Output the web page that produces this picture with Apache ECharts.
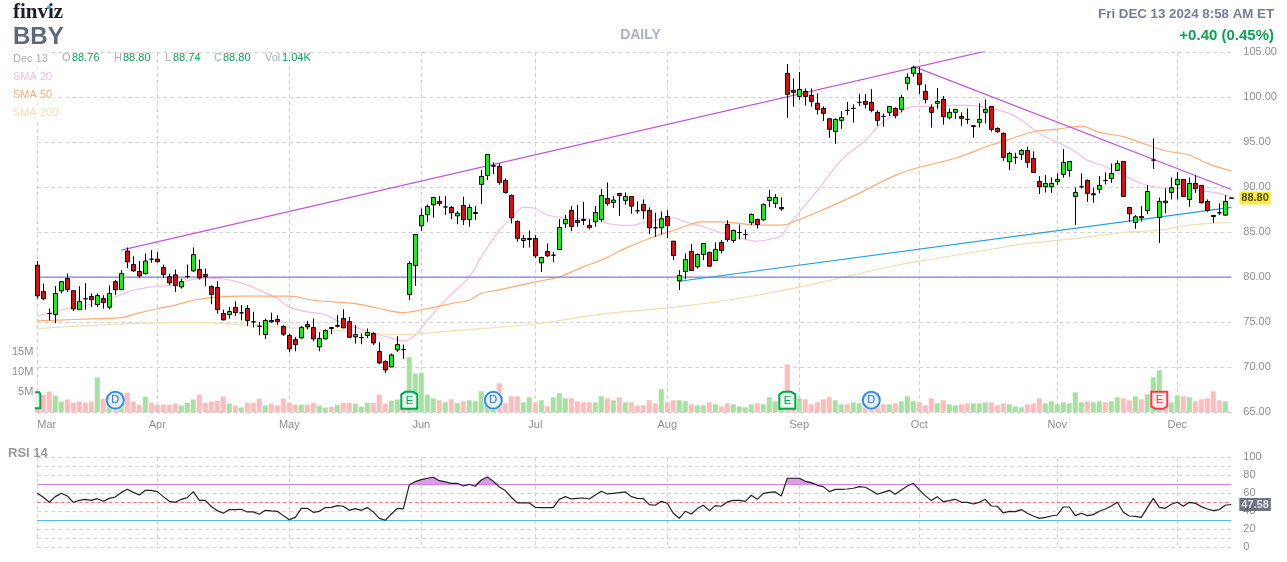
<!DOCTYPE html>
<html><head><meta charset="utf-8">
<style>html,body{margin:0;padding:0;background:#fff}#c{width:1287px;height:562px}</style>
<script src="https://cdn.jsdelivr.net/npm/echarts@6/dist/echarts.min.js"></script>
</head><body><div id="c"></div>
<script>
// month starts and labels
const monthStarts=[0,20,42,64,83,105,127,147,170,190];
const monthLabels=['Mar','Apr','May','Jun','Jul','Aug','Sep','Oct','Nov','Dec'];
const priceTicks={min:65,max:105,interval:5};
// [open, close, low, high]
const candles=[
[81.33,77.93,77.63,81.78],[78.4,77.6,77.45,79.3],[75.96,75.96,75.2,76.52],[75.85,78.2,74.9,79.0],[78.48,79.5,78.2,79.55],
[79.85,78.63,78.37,80.4],[78.5,76.48,76.26,78.5],[76.4,77.3,76.4,79.0],[77.6,77.6,76.4,79.37],[77.85,77.5,76.7,78.2],
[76.96,77.96,76.7,78.2],[77.63,77.2,76.5,78.0],[76.67,78.2,76.44,79.07],[79.5,78.6,78.04,79.67],[78.63,80.4,78.55,80.78],
[82.9,81.7,81.0,83.3],[81.4,80.7,80.6,82.33],[80.63,80.15,79.9,81.78],[80.4,81.8,80.3,82.63],[82,82,81.6,83],
[82.0,81.74,81.6,82.8],[81.07,80.3,79.93,81.4],[80.04,79.37,79.1,80.4],[80.26,79.07,78.37,80.85],[78.93,79.5,78.74,79.85],
[80.07,80.07,79.85,81.4],[80.7,82.5,80.6,83.3],[80.85,79.93,79.74,81.96],[80.3,80.07,79,80.96],[78.96,78.07,77,79.1],
[78.85,76.4,75.96,79.55],[75.96,75.26,75.2,76.4],[75.85,76.18,75.4,76.7],[76.63,76.07,75.67,77.33],[76.04,76.04,75.2,76.9],
[76.52,75.19,74.56,76.9],[75.04,75.04,74.4,76.15],[74.56,74.56,73.56,75.04],[73.63,75.19,73.11,75.41],[75.19,75.04,74.96,76.07],
[75.3,75.07,74.67,75.78],[74.52,73.67,73.48,74.67],[73.52,72.04,71.67,73.74],[73.07,72.52,71.78,73.37],[73.26,74.41,73.11,74.56],
[74.74,74.48,74.19,75.15],[74.41,73.15,72.89,75.41],[72.26,73.19,71.78,73.89],[73.15,74.07,73.11,74.19],[74.41,74.3,73.67,74.48],
[74.63,74.56,74.41,75.78],[75.41,74.37,74.37,76.44],[75.07,73.33,73.26,75.6],[73.37,73.63,72.63,74.67],[73.3,73.3,72.56,73.74],
[73.52,73.85,73.26,74.3],[73.74,72.7,72.48,73.93],[71.74,70.48,70.33,72.78],[70.63,69.7,69.37,70.78],[70.04,71.37,70.04,71.52],
[71.93,72.52,71.7,73.44],[71.96,71.96,70.93,72.52],[78.07,81.52,77.44,81.78],[81.3,84.74,79.04,84.74],[85.7,86.85,85.11,87.63],
[86.93,87.85,86.15,88.07],[88.04,88.85,86.6,88.93],[88.41,88.19,87.9,89],[87.8,87.8,86.9,89],[87.74,87.15,86.44,87.9],
[86.81,87.11,85.89,87.33],[87.96,86.37,85.78,88.93],[86.41,87.74,85.6,88.07],[87.18,87.07,86.33,87.9],[90.3,91.19,88.11,91.89],
[91.3,93.63,90.78,93.63],[92.37,92.33,91.44,92.74],[92.3,90.52,90.26,92.63],[90.74,89.41,89.3,90.96],[89.07,86.59,85.96,89.19],
[86.19,84.3,83.93,86.3],[84.07,84.3,83.26,84.67],[84.3,84.19,83.3,85.2],[84.3,82.37,82.15,84.67],[81.59,82.19,80.59,82.26],
[82.85,82.37,82.26,83.74],[82.44,82.44,81.7,82.8],[83.07,85.52,83.07,86.44],[85.93,86.41,85.48,86.89],[87.41,85.63,85.11,87.9],
[86.3,86.07,85.6,88],[86.41,86.3,85.78,88.37],[85.74,85.52,85.3,86.41],[86.15,87.18,85.6,87.9],[86.41,89.07,86.15,89.78],
[88.74,88.19,87.93,90.52],[88.3,88.56,87.7,89],[89.3,89.07,86.8,89.3],[88.52,88.96,88.04,89.41],[88.96,87.89,87.04,88.96],
[87.37,87.37,87.04,88.41],[88.07,87.37,86.44,88.63],[87.41,85.48,84.78,87.74],[85.48,85.48,84.48,87.15],[85.48,86.48,84.74,87.3],
[86.74,85.74,84.33,87.44],[84,82.41,81.89,84],[79.59,80.19,78.56,80.78],[80.63,81.96,79.8,82.63],[82.85,80.74,80.7,83.67],
[81.15,82.52,80.96,82.63],[82.52,83.74,81.89,83.74],[82.74,81.22,81.15,82.85],[81.85,83.07,81.78,83.85],[83.85,82.96,82.63,84.11],
[85.85,84.19,83.93,86.33],[84.07,85.19,83.81,85.3],[84.96,84.96,84.19,85.85],[84.74,84.74,84.22,85.3],[86.04,86.96,85.78,87.07],
[86.41,85.85,85.41,86.52],[86.37,88.07,86.26,88.19],[88.52,88.85,87.81,89.67],[88.19,88.85,87.7,89.22],[87.74,87.59,87.37,88.85],
[102.63,100.3,97.7,103.67],[100.74,100.52,98.93,102.07],[100.07,100.85,99.67,102.78],[100.63,100.07,99.04,100.96],[100.18,99.52,98.93,100.96],
[99.3,98.63,98.07,100.41],[98.74,98.19,97.33,98.96],[97.59,96.41,95.48,97.7],[96.18,97.52,94.81,97.63],[97.41,97.74,96.48,98.44],
[98.52,98.52,98,99.44],[98.74,98.74,97.15,99.19],[99.41,99.41,99,100.33],[99.52,99.19,98.74,100.33],[99.41,98.52,98.3,100.89],
[98.3,97.41,96.78,98.52],[97.85,97.85,96.7,98.18],[98.3,98.96,97.89,98.96],[98.74,97.96,97.63,98.85],[98.63,99.96,98.3,100.22],
[101.52,102.19,100.78,102.63],[102.63,103.3,102.26,103.48],[102.63,101.41,100.33,103.3],[100.63,99.74,99.3,101.41],[98.85,98.3,96.6,99.19],
[99.3,99.52,98.67,101],[99.74,97.81,96.93,100.11],[97.7,98.3,97.52,98.74],[98.3,98.63,97.56,98.63],[97.85,97.63,96.78,98.3],
[97.52,97.52,97,98.74],[96.81,96.74,95.48,96.89],[97.19,97.52,96.63,99.3],[98.3,98.63,97.07,99.74],[98.96,96.41,96.15,98.96],
[96.52,96.15,96.04,96.63],[95.96,93.3,92.93,96.07],[92.81,93.74,91.89,93.93],[93.3,93.3,92.56,93.81],[93.63,94.07,93,94.22],
[94.07,92.74,92.15,94.48],[93.19,91.63,91.59,93.96],[90.63,90.04,89.22,91.22],[90.04,90.41,89.41,91.33],[90.04,90.41,89.37,91.07],
[90.63,90.85,90.26,91.52],[91.41,92.74,91.04,94.22],[91.85,92.85,91.15,92.85],[88.96,89.41,85.78,89.96],[90.04,90.04,89.85,91.52],
[90.74,89.3,88.37,90.85],[89.26,89.15,88.26,89.96],[89.74,90.19,89.3,91.22],[90.74,90.74,90.3,91.63],[90.96,91.52,90.48,92.63],
[91.85,92.63,91.78,92.96],[92.85,88.96,88.93,92.85],[87.74,87.04,86.15,87.81],[86.07,86.7,85.37,86.89],[86.74,86.59,86.15,87.89],
[87.41,89.52,87,90.22],[93,93,92,95.41],[86.63,88.41,83.81,88.85],[88.26,88.44,87.07,89.85],[89.41,89.93,88.63,91.07],
[90.26,90.85,88.63,91.67],[90.85,88.96,88.89,90.85],[88.63,90.41,87.81,91.07],[90.41,89.85,89.37,91.3],[90.19,88.26,88.19,90.19],
[88.41,87.41,87.26,88.63],[86.85,86.74,86.04,86.89],[87.15,87.15,86.89,88.19],[86.89,88.41,86.81,89.11],[88.76,88.80,88.74,88.80]
];
// volume in millions
const volumes=[
3,4.4,5.2,4.2,2.7,3.2,2.4,2.7,2.4,2.7,8.7,3.4,3.4,3,2.5,4.9,2.7,1.9,3.9,2.4,
1.9,1.9,1.9,2.2,1.7,2.4,3.2,4.4,2.4,2.7,2.9,3.9,2.2,1.7,1.2,2.4,2.4,3.4,1.7,2.2,
1.7,3.4,2.4,1.9,1.9,1.9,2.4,1.7,1.2,1.4,1.9,2.4,2.4,2.2,1.4,2.4,2.4,4.4,2.2,2.9,
3.2,3,13.8,9.7,9.9,4.4,3.5,3,2.5,3.25,2.25,2.75,3,2.75,5.25,4.5,3,7.25,2.25,4,
4,2.5,3.75,2.5,3,1.5,3.75,4.75,3.5,3.5,2.75,2.5,2.5,2.5,4,3.5,3,3.75,2.5,2.5,
1.75,1.75,3,2.25,5.75,2.5,3,3,2.75,2,1.75,1.75,2.5,2,1.5,2.25,2,1.5,1.25,2,
2.25,2,3.75,2.75,2,12,3.5,3.5,3.25,2,2.5,3.25,3.75,3,2,2,2.5,2.25,1.5,1.75,
2,2,2,2.25,2.75,4,2.75,2.5,1.75,3.5,2.25,3,2,1.75,2,2.25,2.25,2.25,2.5,2.5,
1.75,2.25,2,1.5,1.25,2,2.25,3.5,2.25,2.75,2,2.5,2.25,5,2.5,2.75,2.5,2.75,2.5,2.75,
3.75,3.5,3,4,3.25,4.5,8.75,10.5,3,2.5,4.25,4,3.75,2.75,3.25,3.5,5.25,3,2.75,0.04
];
// bars whose volume is drawn green; the rest are pink
const volGreen=[3,4,10,12,14,18,24,25,26,32,34,38,44,47,48,50,53,54,55,59,60,62,63,64,65,66,68,70,72,73,74,75,76,81,82,84,86,87,88,93,94,96,98,104,107,108,110,111,113,116,117,118,119,121,122,123,124,127,133,134,136,137,142,144,145,146,150,152,153,156,157,158,162,163,164,168,169,170,171,172,173,174,176,177,179,180,183,185,186,187,189,190,192,198,199];
// simple moving averages as [bar, value] readings
const sma20=[[0,75.7],[5,76.5],[9,77.0],[13,77.8],[16,78.55],[20,79.0],[23,79.1],[25,79.6],[28,79.9],[31,79.8],[34,79.37],[37,78.56],[40,77.63],[42,76.7],[45,76.15],[48,75.85],[50,75.15],[53,74.4],[56,73.8],[59,73.26],[61,72.93],[63,73.56],[65,75.2],[68,77.45],[69,78.1],[72,80.04],[74,82.26],[77,85.2],[79,86.5],[81,87.74],[83,87.63],[85,86.9],[88,86.6],[91,86.5],[94,86.33],[95,85.96],[97,85.78],[99,85.74],[101,86.07],[103,86.33],[106,86.6],[108,86.15],[111,85.6],[114,84.93],[118,84.2],[120,84],[122,84.2],[124,84.56],[125,85.6],[127,87.2],[130,89.6],[134,93],[138,95.2],[141,97.26],[144,98.37],[146,98.93],[150,99],[154,99.1],[158,98.85],[162,98.19],[164,97.44],[167,95.96],[170,95],[173,93.93],[175,93],[178,92.26],[181,91.33],[184,90.4],[187,89.96],[190,89.85],[193,89.67],[197,89.3],[199,88.93]];
const sma50=[[0,75.15],[6,75.3],[10,75.4],[14,75.5],[17,76.04],[20,76.5],[23,76.9],[26,77.44],[29,77.74],[34,77.9],[42,77.9],[46,77.44],[53,77.07],[57,76.52],[61,76.07],[65,76.5],[69,77.07],[72,77.44],[74,78.19],[77,78.6],[83,79.48],[87,80.04],[91,81.15],[94,81.89],[98,83.2],[102,84.3],[106,85.2],[111,86.15],[114,86.15],[120,85.78],[124,85.78],[127,86.4],[131,87.5],[136,89],[143,91.3],[147,92.2],[153,93.2],[159,94.67],[162,95.3],[166,96.15],[170,96.44],[174,96.78],[177,96.07],[181,95.6],[185,94.67],[188,94.04],[192,93.56],[195,92.63],[199,91.78]];
const sma200=[[0,74.3],[5,74.5],[10,74.67],[15,74.85],[20,74.93],[27,74.96],[34,74.74],[42,74.4],[51,74.04],[60,73.63],[64,73.74],[69,74.04],[83,74.8],[94,75.9],[105,76.6],[115,77.44],[127,78.9],[143,81.3],[150,82.1],[159,83.1],[164,83.67],[173,84.3],[181,84.96],[187,85.22],[192,85.78],[197,86.04],[199,86.07]];
// drawn trend lines as [bar, price]
const trendUp=[[14,83.0],[158,105.09]];
const trendDown=[[146,103.4],[199,89.74]];
const trendBlue=[[107,79.55],[199,87.74]];
const level80=[[0,80],[199,80]];
// RSI 14, one value per bar
const rsi=[
60,55.6,50,56.3,60,57,50,52.2,53.3,52.2,54,51.1,54.4,55.9,61,64.4,61,58.1,63.3,63.3,
61.9,56.3,51.1,50,53.3,55.2,61.9,52.2,52.2,45.2,40.7,37.8,41.9,41.9,42.2,39.3,39.3,36.7,41.1,40.4,
40,35.2,30.7,33.3,43.3,43.3,38.9,40,44.1,44.4,46.3,45.6,41.1,43,41.1,44.1,39.3,32.2,30,37,
43.3,42.6,69.3,73,75.2,76.7,77.8,74,72.6,71.1,71.1,68.1,70,67.8,74.8,78.1,73.3,67,63,55.6,
49.3,49.3,49.3,44.4,44.1,44.1,44.1,53.3,56.3,53.7,54.4,54.8,53.7,58.1,62.2,59.3,60,60.7,61.5,56.3,
54.4,54.1,47.4,46.7,51.1,48.9,37.8,32.2,40,37,43,46.7,40.7,46.3,45.6,50.4,52.2,52.2,51.1,57.8,
53.3,60,61.1,61.5,57,76.7,76.7,76.7,73.3,71.9,68.9,67.4,61.9,64.4,64.4,64.8,65.6,67.4,66.7,63,
58.9,61.1,63.3,58.9,63.7,68.1,71.1,63.7,57.4,51.9,56.3,50.7,51.9,53.3,50,50,48.1,50,53.3,45.9,
45.6,38.1,40,39.6,41.9,37.8,34.8,32.2,33.3,34.8,35.9,44.8,44.8,35.2,37.8,35.2,36.3,40,42.6,45.9,
50,38.9,34.8,34.4,33.3,44.1,54.4,44.4,43.3,47.8,50,45.6,50,48.9,45.2,42.6,40.7,41.9,46.7,47.58
];
const rsiLevels={over:70,mid:50,under:30};
const rsiOver=70;
const lastPrice=88.80, lastRsi=47.58;
// earnings and dividend markers
const eventBars=[0,13,62,76,125,139,187];
const eventKinds=['clip','D','E','D','E','D','X'];
const eventLevel=66.33;
// text
const ticker='BBY', logo='finviz', period='DAILY', stamp='Fri DEC 13 2024 8:58 AM ET', change='+0.40 (0.45%)';
const quoteDate='Dec 13';
const quoteKeys=['O','H','L','C','Vol'];
const quoteVals=['88.76','88.80','88.74','88.80','1.04K'];
const smaNames=['SMA 20','SMA 50','SMA 200'];

const FONT='"Liberation Sans",Arial,sans-serif';
const categories=Array.from({length:candles.length},(_,i)=>{const k=monthStarts.indexOf(i);return k>=0?monthLabels[k]:'';});
const isMonth=i=>monthStarts.includes(i);
const gridDash={show:true,lineStyle:{color:'#d2d2d2',type:[4,3],width:1}};
const PINK='#f6bbe6',ORANGE='#ffac72',PALE='#f3dfae',PURPLE='#c155d8',BLUE='#1f9fdd';

const chart=echarts.init(document.getElementById('c'),null,{renderer:'canvas'});
function xAx(g,lab){return {type:'category',gridIndex:g,data:categories,boundaryGap:false,
  axisLine:{show:false},axisTick:{show:false},
  splitLine:{...gridDash,interval:(i)=>isMonth(i)},
  axisLabel:lab?{show:true,interval:0,alignMinLabel:'left',color:'#8f8f8f',fontSize:11,fontFamily:FONT,margin:7}:{show:false}};}
function line(name,data,color,w,smooth,xi,yi,z){return {name,type:'line',data,xAxisIndex:xi||0,yAxisIndex:yi||0,showSymbol:false,symbol:'none',
  smooth:smooth?0.35:false,lineStyle:{color,width:w},itemStyle:{color},z:z||3,silent:true};}
function tag(val,xi,yi,bg,fg){return {type:'scatter',xAxisIndex:xi,yAxisIndex:yi,symbolSize:0,data:[[199,val]],z:9,silent:true,
  label:{show:true,position:'right',distance:8,formatter:()=>val.toFixed(2),backgroundColor:bg,color:fg,fontWeight:'bold',fontSize:11,fontFamily:FONT,padding:[1,2,1,2]}};}
function txt(t,x,y,fill,size,weight,align,fam,bg){const s={text:t,fill,font:`${weight||'normal'} ${size}px ${fam||FONT}`,textAlign:align||'left',textVerticalAlign:'middle'};
  if(bg){s.backgroundColor='#fff';s.padding=[3,2,3,2];}
  return {type:'text',x:bg?x-2:x,y:bg?y+1:y,silent:true,z:20,style:s};}

const gText=[
 txt(logo,13,13,'#1b1e2a',21,'bold','left','"Liberation Serif",serif'),
 {type:'circle',shape:{cx:49,cy:7.3,r:2},style:{fill:'#4aa3f2'},silent:true,z:21},
 txt(ticker,13,37,'#5f6680',24,'bold'),
 txt(period,640.5,35.5,'#a9b0c6',14,'bold','center'),
 txt(stamp,1274,14,'#767d94',13.3,'bold','right'),
 txt(change,1274,35.5,'#0ba44f',15,'bold','right'),
 txt(quoteDate,13,58,'#a9aec3',11,null,null,null,true),
 txt(smaNames[0],13,76,PINK,11,null,null,null,true),txt(smaNames[1],13,94,ORANGE,11,null,null,null,true),txt(smaNames[2],13,112,PALE,11,null,null,null,true)
];
const keyX=[62,114,165,214,265],valX=[72,123,173,223,282];
quoteKeys.forEach((k,i)=>{gText.push(txt(k,keyX[i],58,'#a9aec3',11));gText.push(txt(quoteVals[i],valX[i],58,'#0ea35a',11));});

const series=[
 {name:'Volume',type:'bar',xAxisIndex:0,yAxisIndex:1,barWidth:5,clip:false,z:2,silent:true,
  data:volumes.map((v,i)=>({value:v,itemStyle:{color:volGreen.includes(i)?'#a8e0a4':'#ffbcbc'}}))},
 line('SMA 20',sma20,PINK,1.2,true),line('SMA 50',sma50,ORANGE,1.2,true),line('SMA 200',sma200,PALE,1.2,true),
 line('80',level80,'#7f80dc',1.2),line('up',trendUp,PURPLE,1.2),line('down',trendDown,PURPLE,1.2),line('blue',trendBlue,BLUE,1.2),
 {name:'BBY',type:'candlestick',xAxisIndex:0,yAxisIndex:0,data:candles,barWidth:5,clip:false,z:5,silent:true,
  itemStyle:{color:'#00ff00',color0:'#ff0000',borderColor:'#000',borderColor0:'#000',borderColorDoji:'#000',borderWidth:1}},
 {type:'custom',xAxisIndex:0,yAxisIndex:0,z:7,silent:true,data:eventBars.map(b=>[b,eventLevel]),encode:{x:0,y:1},
  renderItem:(p,api)=>{const c=api.coord([api.value(0),api.value(1)]);const x=c[0],y=c[1],k=eventKinds[p.dataIndex];
   if(k==='D')return {type:'group',children:[
     {type:'circle',shape:{cx:x,cy:y,r:10},style:{fill:'#fff'}},
     {type:'circle',shape:{cx:x,cy:y,r:8.5},style:{fill:'#e8f1fc',stroke:'#2f8fee',lineWidth:2}},
     {type:'text',style:{x,y,text:'D',fill:'#2f6fd0',font:'11px '+FONT,textAlign:'center',textVerticalAlign:'middle'}}]};
   if(k==='clip')return {type:'polyline',shape:{points:[[x-2.3,y-8],[x+2,y-8],[x+3,y-6],[x+3,y+8],[x-2.3,y+8]]},style:{fill:'#e9f6ec',stroke:'#00a651',lineWidth:2}};
   const red=k==='X',s=red?-1:1,col=red?'#f6384a':'#00a651';
   return {type:'group',children:[
     {type:'polygon',shape:{points:[[-8,-6],[-4,-8.5],[4,-8.5],[8,-6],[8,8.5],[-8,8.5]].map(q=>[x+q[0],y+s*q[1]])},style:{fill:red?'#fdecee':'#e9f6ec',stroke:col,lineWidth:2}},
     {type:'text',style:{x,y:y+s*0.5,text:'E',fill:col,font:'11px '+FONT,textAlign:'center',textVerticalAlign:'middle'}}]};
  }},
 {type:'custom',xAxisIndex:1,yAxisIndex:2,z:2,silent:true,data:rsi.map((v,i)=>[i,v]),encode:{x:0,y:1},
  renderItem:(p,api)=>{const i=p.dataIndex;if(i>=rsi.length-1)return null;const a=rsi[i],b=rsi[i+1];if(a<=rsiOver&&b<=rsiOver)return null;
   let pts=[];if(a>rsiOver)pts.push([i,rsiOver],[i,a]);else pts.push([i+(rsiOver-a)/(b-a),rsiOver]);
   if(b>rsiOver)pts.push([i+1,b],[i+1,rsiOver]);else pts.push([i+(rsiOver-a)/(b-a),rsiOver]);
   return {type:'polygon',shape:{points:pts.map(q=>api.coord(q))},style:{fill:'#dc9be6',stroke:'#dc9be6',lineWidth:0.5}};}},
 {name:'RSI',type:'line',xAxisIndex:1,yAxisIndex:2,data:rsi,showSymbol:false,symbol:'none',lineStyle:{color:'#222',width:1.2},z:5,silent:true,
  markLine:{silent:true,symbol:'none',animation:false,label:{show:false},data:[
   {yAxis:rsiLevels.over,lineStyle:{color:'#cb7fe2',width:1.2,type:'solid'}},
   {yAxis:rsiLevels.mid,lineStyle:{color:'#ff6f6f',width:1.2,type:[3,3]}},
   {yAxis:rsiLevels.under,lineStyle:{color:'#55bdea',width:1.2,type:'solid'}}]}},
 tag(lastPrice,0,0,'#ffe900','#222'),
 tag(lastRsi,1,2,'#4a5068','#fff')
];
const axLab={color:'#8f8f8f',fontSize:11,fontFamily:FONT};
chart.setOption({animation:false,backgroundColor:'#fff',textStyle:{fontFamily:FONT},
 grid:[{left:37.3,right:55.7,top:52,height:360.3},{left:37.3,right:55.7,top:457.3,height:90}],
 xAxis:[xAx(0,true),xAx(1,false)],
 yAxis:[
  {type:'value',gridIndex:0,position:'right',...priceTicks,scale:true,axisLine:{show:false},axisTick:{show:false},splitLine:gridDash,
   axisLabel:{...axLab,margin:12,padding:[0,0,3,0],formatter:v=>v.toFixed(2)}},
  {type:'value',gridIndex:0,position:'left',min:0,max:90,interval:5,axisLine:{show:false},axisTick:{show:false},splitLine:{show:false},
   axisLabel:{...axLab,margin:4,padding:[0,0,2,0],formatter:v=>[5,10,15].includes(v)?v+'M':''}},
  {type:'value',gridIndex:1,position:'right',min:0,max:100,interval:10,axisLine:{show:false},axisTick:{show:false},splitLine:gridDash,
   axisLabel:{...axLab,margin:12,padding:[0,0,3,0],formatter:v=>v%20===0?String(v):''}}
 ],
 graphic:[...gText,txt('RSI 14',8,453.5,'#999',13,'bold')],
 series});
</script></body></html>
